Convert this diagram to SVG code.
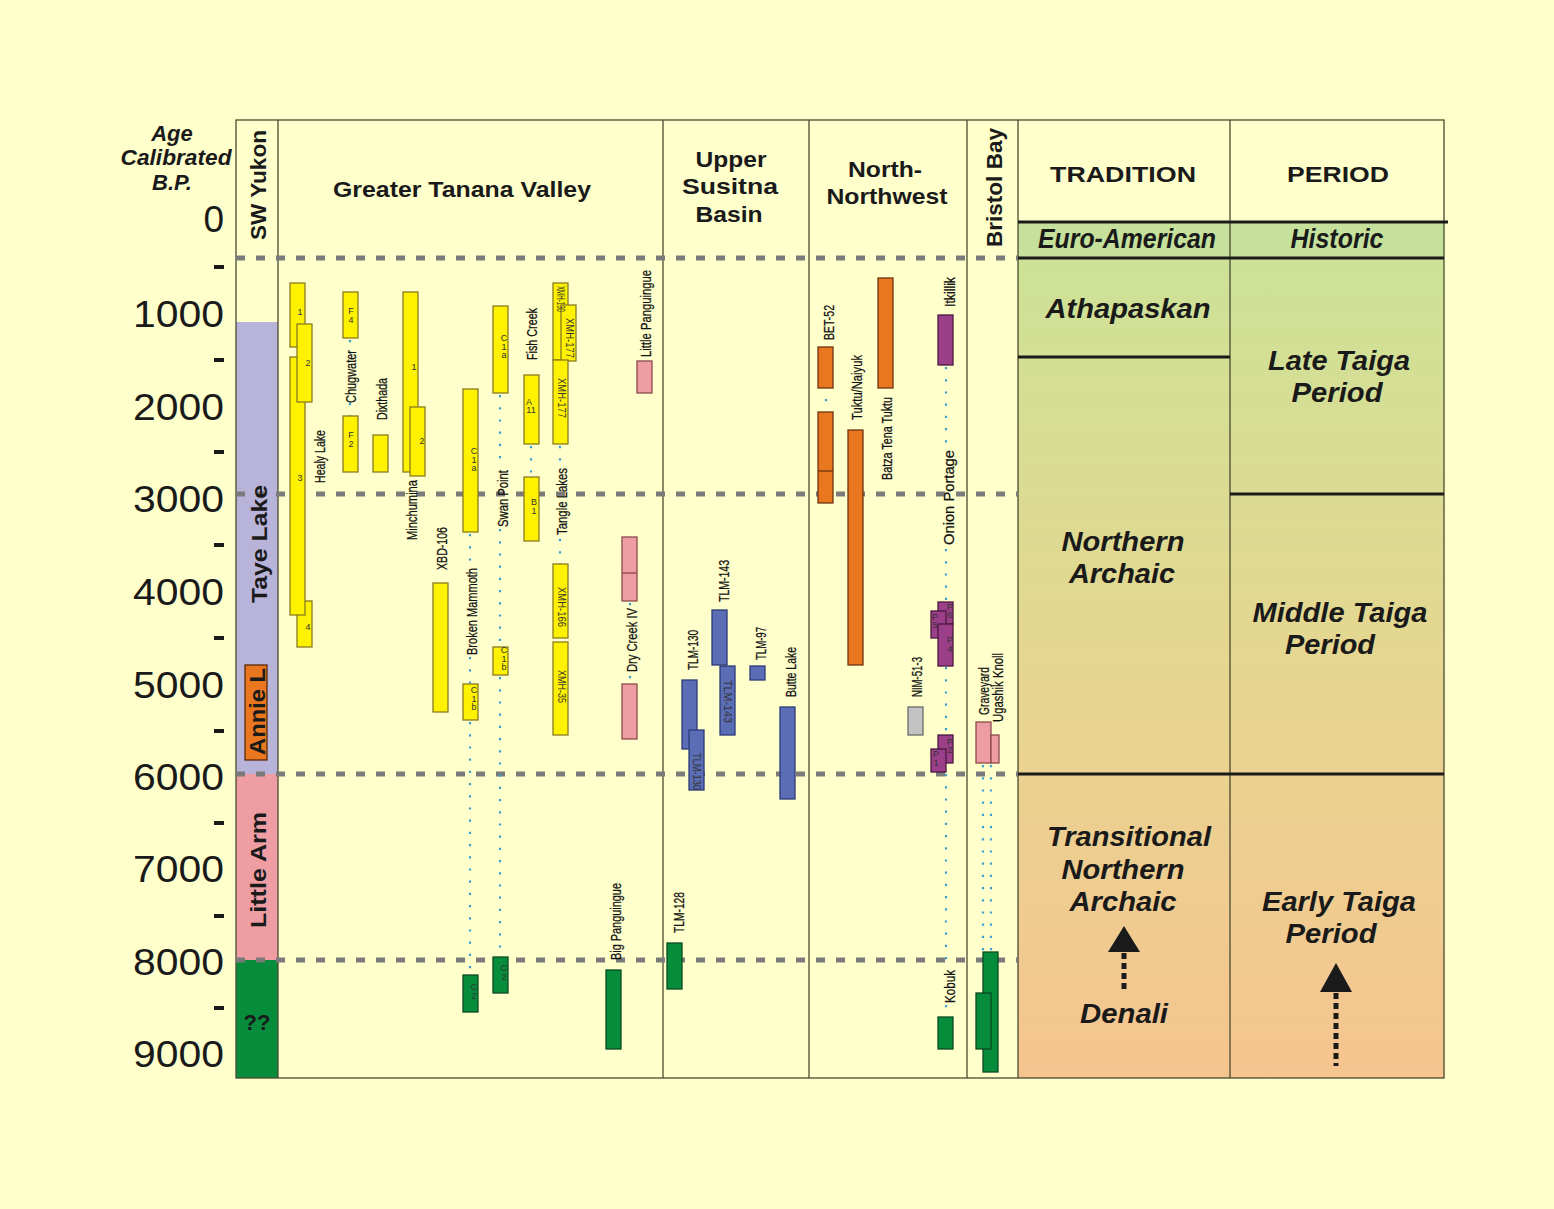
<svg xmlns="http://www.w3.org/2000/svg" width="1554" height="1209" viewBox="0 0 1554 1209">
<defs>
<linearGradient id="grad" gradientUnits="userSpaceOnUse" x1="0" y1="258" x2="0" y2="1078">
<stop offset="0" stop-color="#cde297"/>
<stop offset="0.5" stop-color="#e6d690"/>
<stop offset="1" stop-color="#f6c490"/>
</linearGradient>
<style>
.frame{stroke:#4a4a30;stroke-width:1.3;fill:none}
.thick{stroke:#1a1a1a;stroke-width:3;fill:none}
.dash{stroke:#7a7a7a;stroke-width:5;stroke-dasharray:9 11;fill:none}
.dot{stroke:#3aa0d0;stroke-width:2.2;stroke-dasharray:2.2 10;fill:none}
.y{fill:#fff200;stroke:#8a7a20;stroke-width:1.3}
.b{fill:#5a6db5;stroke:#2c3a78;stroke-width:1.3}
.o{fill:#e8771f;stroke:#6e3410;stroke-width:1.3}
.p{fill:#9b3f88;stroke:#4a1840;stroke-width:1.3}
.g{fill:#078c3c;stroke:#0a4a20;stroke-width:1.3}
.k{fill:#ee9da3;stroke:#8a4a4a;stroke-width:1.3}
.gr{fill:#c3c3c3;stroke:#6a6a6a;stroke-width:1.3}
.lbl{font-family:"Liberation Sans Narrow","Liberation Sans",Arial,sans-serif;font-size:14px;fill:#111;stroke:#111;stroke-width:0.25}
.in{font-family:"Liberation Sans Narrow","Liberation Sans",Arial,sans-serif;font-size:10px;fill:#333}
.sm{font-family:"Liberation Sans",Arial,sans-serif;font-size:9px;fill:#333;text-anchor:middle}
.hd{font-family:"Liberation Sans",Arial,sans-serif;font-weight:bold;font-size:22px;fill:#1a1a1a;text-anchor:middle}
.hv{font-family:"Liberation Sans",Arial,sans-serif;font-weight:bold;font-size:22px;fill:#1a1a1a}
.bi{font-family:"Liberation Sans",Arial,sans-serif;font-weight:bold;font-style:italic;font-size:28px;fill:#1a1a1a;text-anchor:middle}
.ax{font-family:"Liberation Sans",Arial,sans-serif;font-size:37px;fill:#1a1a1a;text-anchor:end}
</style>
</defs>
<rect x="0" y="0" width="1554" height="1209" fill="#ffffcc"/>

<g id="background-columns">
<rect x="1018" y="258" width="426" height="820" fill="url(#grad)"/>
<rect x="1018" y="222" width="426" height="36" fill="#c5e19c"/>
<rect x="236" y="322" width="42" height="452" fill="#b8b4d9"/>
<rect x="236" y="774" width="42" height="186" fill="#ee9da3"/>
<rect x="236" y="960" width="42" height="118" fill="#078c3c"/>
<rect x="245" y="665" width="22" height="95" fill="#e8771f" stroke="#5a2a0a" stroke-width="1.3"/>
</g>

<g id="frame">
<rect x="236" y="120" width="1208" height="958" class="frame"/>
<line x1="278" y1="120" x2="278" y2="1078" class="frame"/>
<line x1="663" y1="120" x2="663" y2="1078" class="frame"/>
<line x1="809" y1="120" x2="809" y2="1078" class="frame"/>
<line x1="967" y1="120" x2="967" y2="1078" class="frame"/>
<line x1="1018" y1="120" x2="1018" y2="1078" class="frame"/>
<line x1="1230" y1="120" x2="1230" y2="1078" class="frame"/>
<line x1="1018" y1="222" x2="1448" y2="222" class="thick"/>
<line x1="1018" y1="258" x2="1444" y2="258" class="thick"/>
<line x1="1018" y1="357" x2="1230" y2="357" class="thick"/>
<line x1="1230" y1="494" x2="1444" y2="494" class="thick"/>
<line x1="1018" y1="774" x2="1444" y2="774" class="thick"/>
</g>

<g id="connectors">
<line x1="236" y1="258" x2="1018" y2="258" class="dash"/>
<line x1="236" y1="494" x2="1018" y2="494" class="dash"/>
<line x1="236" y1="774" x2="1018" y2="774" class="dash"/>
<line x1="236" y1="960" x2="1018" y2="960" class="dash"/>
<path class="dot" d="M350,340 V354 M350,403 V416 M470,534 V566 M470,657 V684 M470,722 V975 M500,395 V468 M500,529 V647 M500,677 V957 M531,446 V477 M560,446 V466 M560,539 V564 M630,603 V606 M630,676 V684 M826,399 V405 M946,367 V448 M946,549 V602 M946,667 V735 M946,774 V968 M946,1005 V1017 M983,765 V952 M991,765 V952"/>
</g>

<g id="axis">
<text class="hv" x="172" y="141" text-anchor="middle" font-style="italic" font-size="20">Age</text>
<text class="hv" x="176" y="165" text-anchor="middle" font-style="italic" font-size="20" textLength="111" lengthAdjust="spacingAndGlyphs">Calibrated</text>
<text class="hv" x="172" y="190" text-anchor="middle" font-style="italic" font-size="20">B.P.</text>
<text class="ax" x="224" y="232">0</text>
<text class="ax" x="224" y="327" textLength="91" lengthAdjust="spacingAndGlyphs">1000</text>
<text class="ax" x="224" y="420" textLength="91" lengthAdjust="spacingAndGlyphs">2000</text>
<text class="ax" x="224" y="512" textLength="91" lengthAdjust="spacingAndGlyphs">3000</text>
<text class="ax" x="224" y="605" textLength="91" lengthAdjust="spacingAndGlyphs">4000</text>
<text class="ax" x="224" y="698" textLength="91" lengthAdjust="spacingAndGlyphs">5000</text>
<text class="ax" x="224" y="790" textLength="91" lengthAdjust="spacingAndGlyphs">6000</text>
<text class="ax" x="224" y="882" textLength="91" lengthAdjust="spacingAndGlyphs">7000</text>
<text class="ax" x="224" y="975" textLength="91" lengthAdjust="spacingAndGlyphs">8000</text>
<text class="ax" x="224" y="1067" textLength="91" lengthAdjust="spacingAndGlyphs">9000</text>
<g fill="#1a1a1a">
<rect x="214" y="265" width="10" height="4"/>
<rect x="214" y="358" width="10" height="4"/>
<rect x="214" y="450" width="10" height="4"/>
<rect x="214" y="543" width="10" height="4"/>
<rect x="214" y="636" width="10" height="4"/>
<rect x="214" y="729" width="10" height="4"/>
<rect x="214" y="821" width="10" height="4"/>
<rect x="214" y="914" width="10" height="4"/>
<rect x="214" y="1006" width="10" height="4"/>
</g>
</g>

<g id="headers">
<text class="hv" transform="translate(266,240) rotate(-90)" textLength="110" lengthAdjust="spacingAndGlyphs">SW Yukon</text>
<text class="hd" x="462" y="197" font-size="22" textLength="258" lengthAdjust="spacingAndGlyphs">Greater Tanana Valley</text>
<text class="hd" x="731" y="167" font-size="23" textLength="71" lengthAdjust="spacingAndGlyphs">Upper</text>
<text class="hd" x="730" y="194" font-size="23" textLength="96" lengthAdjust="spacingAndGlyphs">Susitna</text>
<text class="hd" x="729" y="222" font-size="23" textLength="67" lengthAdjust="spacingAndGlyphs">Basin</text>
<text class="hd" x="885" y="177" font-size="23" textLength="74" lengthAdjust="spacingAndGlyphs">North-</text>
<text class="hd" x="887" y="204" font-size="23" textLength="121" lengthAdjust="spacingAndGlyphs">Northwest</text>
<text class="hv" transform="translate(1002,247) rotate(-90)" textLength="119" lengthAdjust="spacingAndGlyphs">Bristol Bay</text>
<text class="hd" x="1123" y="182" font-size="26" textLength="146" lengthAdjust="spacingAndGlyphs">TRADITION</text>
<text class="hd" x="1338" y="182" font-size="26" textLength="102" lengthAdjust="spacingAndGlyphs">PERIOD</text>
</g>

<g id="sw-yukon">
<text class="hv" transform="translate(267,603) rotate(-90)" font-size="24" textLength="118" lengthAdjust="spacingAndGlyphs">Taye Lake</text>
<text class="hv" transform="translate(265,755) rotate(-90)" font-size="22" textLength="87" lengthAdjust="spacingAndGlyphs">Annie L</text>
<text class="hv" transform="translate(266,928) rotate(-90)" font-size="24" textLength="116" lengthAdjust="spacingAndGlyphs">Little Arm</text>
<text class="hd" x="257" y="1030">??</text>
</g>

<g id="healy-lake">
<rect class="y" x="290" y="283" width="15" height="64"/>
<rect class="y" x="297" y="601" width="15" height="46"/>
<rect class="y" x="290" y="357" width="15" height="258"/>
<rect class="y" x="297" y="324" width="15" height="78"/>
<text class="sm" x="300" y="315">1</text>
<text class="sm" x="308" y="366">2</text>
<text class="sm" x="300" y="481">3</text>
<text class="sm" x="308" y="630">4</text>
<text class="lbl" transform="translate(325,483) rotate(-90)" textLength="53" lengthAdjust="spacingAndGlyphs">Healy Lake</text>
</g>

<g id="chugwater">
<rect class="y" x="343" y="292" width="15" height="46"/>
<rect class="y" x="343" y="416" width="15" height="56"/>
<text class="sm" x="351" y="314">F</text>
<text class="sm" x="351" y="323">4</text>
<text class="sm" x="351" y="438">F</text>
<text class="sm" x="351" y="447">2</text>
<text class="lbl" transform="translate(356,403) rotate(-90)" textLength="53" lengthAdjust="spacingAndGlyphs">Chugwater</text>
</g>

<g id="dixthada">
<rect class="y" x="373" y="435" width="15" height="37"/>
<text class="lbl" transform="translate(387,420) rotate(-90)" textLength="42" lengthAdjust="spacingAndGlyphs">Dixthada</text>
</g>

<g id="minchumina">
<rect class="y" x="403" y="292" width="15" height="180"/>
<rect class="y" x="410" y="407" width="15" height="69"/>
<text class="sm" x="414" y="370">1</text>
<text class="sm" x="422" y="444">2</text>
<text class="lbl" transform="translate(417,540) rotate(-90)" textLength="60" lengthAdjust="spacingAndGlyphs">Minchumina</text>
</g>

<g id="xbd-106">
<rect class="y" x="433" y="583" width="15" height="129"/>
<text class="lbl" transform="translate(447,570) rotate(-90)" textLength="43" lengthAdjust="spacingAndGlyphs">XBD-106</text>
</g>

<g id="broken-mammoth">
<rect class="y" x="463" y="389" width="15" height="143"/>
<rect class="y" x="463" y="684" width="15" height="36"/>
<rect class="g" x="463" y="975" width="15" height="37"/>
<text class="sm" x="474" y="454">C</text>
<text class="sm" x="474" y="463">1</text>
<text class="sm" x="474" y="471" font-size="7">a</text>
<text class="sm" x="474" y="693">C</text>
<text class="sm" x="474" y="702">1</text>
<text class="sm" x="474" y="710">b</text>
<text class="sm" x="474" y="990">C</text>
<text class="sm" x="474" y="999">2</text>
<text class="lbl" transform="translate(477,655) rotate(-90)" textLength="87" lengthAdjust="spacingAndGlyphs">Broken Mammoth</text>
</g>

<g id="swan-point">
<rect class="y" x="493" y="306" width="15" height="87"/>
<rect class="y" x="493" y="647" width="15" height="28"/>
<rect class="g" x="493" y="957" width="15" height="36"/>
<text class="sm" x="504" y="341">C</text>
<text class="sm" x="504" y="350">1</text>
<text class="sm" x="504" y="358" font-size="7">a</text>
<text class="sm" x="504" y="653">C</text>
<text class="sm" x="504" y="662">1</text>
<text class="sm" x="504" y="670">b</text>
<text class="sm" x="504" y="971">C</text>
<text class="sm" x="504" y="980">2</text>
<text class="lbl" transform="translate(508,527) rotate(-90)" textLength="57" lengthAdjust="spacingAndGlyphs">Swan Point</text>
</g>

<g id="fish-creek">
<rect class="y" x="524" y="375" width="15" height="69"/>
<rect class="y" x="524" y="477" width="15" height="64"/>
<text class="sm" x="529" y="405">A</text>
<text class="sm" x="531" y="413">11</text>
<text class="sm" x="534" y="505">B</text>
<text class="sm" x="534" y="514">1</text>
<text class="lbl" transform="translate(537,360) rotate(-90)" textLength="52" lengthAdjust="spacingAndGlyphs">Fish Creek</text>
</g>

<g id="tangle-lakes">
<rect class="y" x="553" y="283" width="15" height="77"/>
<rect class="y" x="561" y="305" width="15" height="56"/>
<rect class="y" x="553" y="360" width="15" height="84"/>
<rect class="y" x="553" y="564" width="15" height="74"/>
<rect class="y" x="553" y="642" width="15" height="93"/>
<text class="in" transform="translate(557,286) rotate(90)" textLength="26" lengthAdjust="spacingAndGlyphs">XMH-130</text>
<text class="in" transform="translate(566,318) rotate(90)" textLength="40" lengthAdjust="spacingAndGlyphs">XMH-177</text>
<text class="in" transform="translate(558,378) rotate(90)" textLength="40" lengthAdjust="spacingAndGlyphs">XMH-177</text>
<text class="in" transform="translate(558,587) rotate(90)" textLength="40" lengthAdjust="spacingAndGlyphs">XMH-166</text>
<text class="in" transform="translate(558,670) rotate(90)" textLength="33" lengthAdjust="spacingAndGlyphs">XMH-35</text>
<text class="lbl" transform="translate(567,535) rotate(-90)" textLength="67" lengthAdjust="spacingAndGlyphs">Tangle Lakes</text>
</g>

<g id="little-panguingue">
<rect class="k" x="637" y="361" width="15" height="32"/>
<text class="lbl" transform="translate(651,357) rotate(-90)" textLength="87" lengthAdjust="spacingAndGlyphs">Little Panguingue</text>
</g>

<g id="dry-creek-iv">
<rect class="k" x="622" y="537" width="15" height="64"/>
<line x1="622" y1="573" x2="637" y2="573" stroke="#8a4a4a" stroke-width="1.3"/>
<rect class="k" x="622" y="684" width="15" height="55"/>
<text class="lbl" transform="translate(637,672) rotate(-90)" textLength="64" lengthAdjust="spacingAndGlyphs">Dry Creek IV</text>
</g>

<g id="big-panguingue">
<rect class="g" x="606" y="970" width="15" height="79"/>
<text class="lbl" transform="translate(621,960) rotate(-90)" textLength="77" lengthAdjust="spacingAndGlyphs">Big Panguingue</text>
</g>

<g id="tlm-130">
<rect class="b" x="682" y="680" width="15" height="69"/>
<rect class="b" x="689" y="730" width="15" height="60"/>
<text class="in" transform="translate(693,753) rotate(90)" fill="#1a1a40" textLength="37" lengthAdjust="spacingAndGlyphs">TLM-130</text>
<text class="lbl" transform="translate(698,670) rotate(-90)" textLength="40" lengthAdjust="spacingAndGlyphs">TLM-130</text>
</g>

<g id="tlm-143">
<rect class="b" x="712" y="610" width="15" height="55"/>
<rect class="b" x="720" y="666" width="15" height="69"/>
<text class="in" transform="translate(724,680) rotate(90)" textLength="43" lengthAdjust="spacingAndGlyphs">TLM-143</text>
<text class="lbl" transform="translate(729,602) rotate(-90)" textLength="42" lengthAdjust="spacingAndGlyphs">TLM-143</text>
</g>

<g id="tlm-97">
<rect class="b" x="750" y="666" width="15" height="14"/>
<text class="lbl" transform="translate(766,660) rotate(-90)" textLength="33" lengthAdjust="spacingAndGlyphs">TLM-97</text>
</g>

<g id="butte-lake">
<rect class="b" x="780" y="707" width="15" height="92"/>
<text class="lbl" transform="translate(796,697) rotate(-90)" textLength="50" lengthAdjust="spacingAndGlyphs">Butte Lake</text>
</g>

<g id="tlm-128">
<rect class="g" x="667" y="943" width="15" height="46"/>
<text class="lbl" transform="translate(684,933) rotate(-90)" textLength="41" lengthAdjust="spacingAndGlyphs">TLM-128</text>
</g>

<g id="bet-52">
<rect class="o" x="818" y="347" width="15" height="41"/>
<rect class="o" x="818" y="412" width="15" height="91"/>
<line x1="818" y1="471" x2="833" y2="471" stroke="#6e3410" stroke-width="1.3"/>
<text class="lbl" transform="translate(834,340) rotate(-90)" textLength="35" lengthAdjust="spacingAndGlyphs">BET-52</text>
</g>

<g id="tuktu-naiyuk">
<rect class="o" x="848" y="430" width="15" height="235"/>
<text class="lbl" transform="translate(862,420) rotate(-90)" textLength="65" lengthAdjust="spacingAndGlyphs">Tuktu/Naiyuk</text>
</g>

<g id="batza-tena-tuktu">
<rect class="o" x="878" y="278" width="15" height="110"/>
<text class="lbl" transform="translate(892,480) rotate(-90)" textLength="83" lengthAdjust="spacingAndGlyphs">Batza Tena Tuktu</text>
</g>

<g id="itkillik">
<rect class="p" x="938" y="315" width="15" height="50"/>
<text class="lbl" transform="translate(955,307) rotate(-90)" textLength="30" lengthAdjust="spacingAndGlyphs">Itkillik</text>
</g>

<g id="onion-portage">
<rect class="p" x="938" y="602" width="15" height="22"/>
<rect class="p" x="931" y="611" width="15" height="27"/>
<rect class="p" x="938" y="624" width="15" height="42"/>
<rect class="p" x="938" y="735" width="15" height="28"/>
<rect class="p" x="931" y="749" width="15" height="23"/>
<text class="sm" x="950" y="610">P</text>
<text class="sm" x="950" y="618">6</text>
<text class="sm" x="935" y="620">P</text>
<text class="sm" x="935" y="628">5</text>
<text class="sm" x="950" y="643">P</text>
<text class="sm" x="950" y="652">4</text>
<text class="sm" x="950" y="745">P</text>
<text class="sm" x="950" y="753">2</text>
<text class="sm" x="936" y="757">P</text>
<text class="sm" x="936" y="766">1</text>
<text class="lbl" transform="translate(954,545) rotate(-90)" textLength="95" lengthAdjust="spacingAndGlyphs">Onion Portage</text>
</g>

<g id="nim-51-3">
<rect class="gr" x="908" y="707" width="15" height="28"/>
<text class="lbl" transform="translate(922,697) rotate(-90)" textLength="40" lengthAdjust="spacingAndGlyphs">NIM-51-3</text>
</g>

<g id="kobuk">
<rect class="g" x="938" y="1017" width="15" height="32"/>
<text class="lbl" transform="translate(955,1003) rotate(-90)" textLength="33" lengthAdjust="spacingAndGlyphs">Kobuk</text>
</g>

<g id="graveyard">
<rect class="k" x="976" y="722" width="15" height="41"/>
<text class="lbl" transform="translate(989,715) rotate(-90)" textLength="48" lengthAdjust="spacingAndGlyphs">Graveyard</text>
</g>

<g id="ugashik-knoll">
<rect class="k" x="991" y="735" width="8" height="28"/>
<rect class="g" x="983" y="952" width="15" height="120"/>
<rect class="g" x="976" y="993" width="15" height="56"/>
<text class="lbl" transform="translate(1003,722) rotate(-90)" textLength="69" lengthAdjust="spacingAndGlyphs">Ugashik Knoll</text>
</g>

<g id="tradition">
<text class="bi" x="1127" y="248" font-size="22" textLength="178" lengthAdjust="spacingAndGlyphs">Euro-American</text>
<text class="bi" x="1128" y="318" textLength="165" lengthAdjust="spacingAndGlyphs">Athapaskan</text>
<text class="bi" x="1123" y="551" textLength="123" lengthAdjust="spacingAndGlyphs">Northern</text>
<text class="bi" x="1122" y="583" textLength="106" lengthAdjust="spacingAndGlyphs">Archaic</text>
<text class="bi" x="1129" y="846" textLength="164" lengthAdjust="spacingAndGlyphs">Transitional</text>
<text class="bi" x="1123" y="879" textLength="123" lengthAdjust="spacingAndGlyphs">Northern</text>
<text class="bi" x="1123" y="911" textLength="107" lengthAdjust="spacingAndGlyphs">Archaic</text>
<polygon points="1124,926 1108,952 1140,952" fill="#1a1a1a"/>
<line x1="1124" y1="953" x2="1124" y2="991" stroke="#1a1a1a" stroke-width="5" stroke-dasharray="6 4"/>
<text class="bi" x="1124" y="1023" textLength="88" lengthAdjust="spacingAndGlyphs">Denali</text>
</g>

<g id="period">
<text class="bi" x="1337" y="248" font-size="22" textLength="93" lengthAdjust="spacingAndGlyphs">Historic</text>
<text class="bi" x="1339" y="370" textLength="142" lengthAdjust="spacingAndGlyphs">Late Taiga</text>
<text class="bi" x="1337" y="402" textLength="91" lengthAdjust="spacingAndGlyphs">Period</text>
<text class="bi" x="1340" y="622" textLength="175" lengthAdjust="spacingAndGlyphs">Middle Taiga</text>
<text class="bi" x="1330" y="654" textLength="90" lengthAdjust="spacingAndGlyphs">Period</text>
<text class="bi" x="1339" y="911" textLength="154" lengthAdjust="spacingAndGlyphs">Early Taiga</text>
<text class="bi" x="1331" y="943" textLength="91" lengthAdjust="spacingAndGlyphs">Period</text>
<polygon points="1336,963 1320,992 1352,992" fill="#1a1a1a"/>
<line x1="1336" y1="993" x2="1336" y2="1066" stroke="#1a1a1a" stroke-width="5" stroke-dasharray="6 4"/>
</g>
</svg>
